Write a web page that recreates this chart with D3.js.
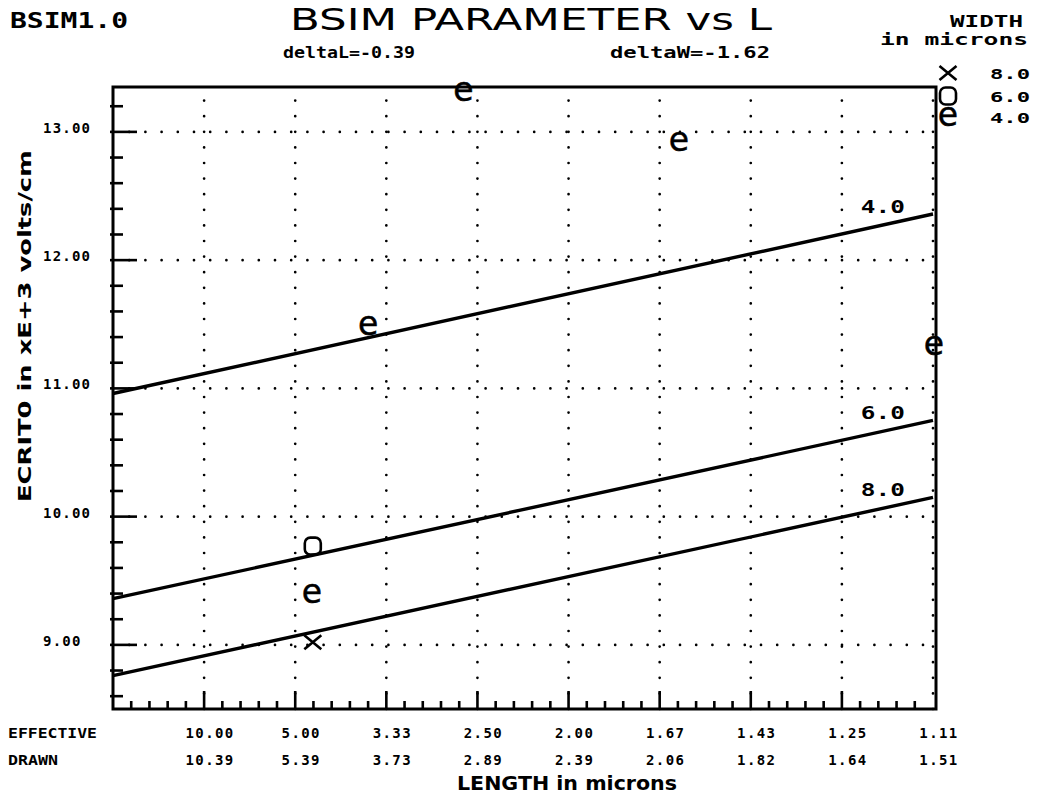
<!DOCTYPE html>
<html>
<head>
<meta charset="utf-8">
<script src="https://cdn.jsdelivr.net/npm/d3@7"></script>
<style>
  body { margin: 0; background: #fff; }
  text { fill: #000; }
</style>
</head>
<body>
<svg id="chart" width="1039" height="798"></svg>
<script>
// Device widths (microns) and the marker used for each
const widths = ["8.0", "6.0", "4.0"];
const markerShapes = ["x", "box", "e"];

// Fitted ECRIT0 (xE+3 V/cm) at 1/L = 0 and at 1/L = 0.9 (L = 1.11 um)
const fitInvL = [0, 0.9];
const fitAtZero = [8.76, 9.36, 10.96];
const fitAtEnd = [10.15, 10.75, 12.36];

// Measured points: effective length (um) and ECRIT0
const measuredW8 = [{ L: 4.56, v: 9.02 }];
const measuredW6 = [{ L: 4.56, v: 9.77 }];
const measuredW4 = [
  { L: 2.60, v: 13.31 },
  { L: 1.61, v: 12.92 },
  { L: 3.57, v: 11.49 },
  { L: 1.11, v: 11.33 },
  { L: 4.58, v: 9.40 }
];
const measured = [measuredW8, measuredW6, measuredW4];

// Axis ticks
const invLTicks = [0.1, 0.2, 0.3, 0.4, 0.5, 0.6, 0.7, 0.8, 0.9];
const effectiveLabels = ["10.00", "5.00", "3.33", "2.50", "2.00", "1.67", "1.43", "1.25", "1.11"];
const drawnLabels = ["10.39", "5.39", "3.73", "2.89", "2.39", "2.06", "1.82", "1.64", "1.51"];
const yTicks = [9, 10, 11, 12, 13];
const yTickLabels = ["9.00", "10.00", "11.00", "12.00", "13.00"];

const svg = d3.select("#chart");
const plotLeft = 113, plotRight = 936, plotTop = 87, plotBottom = 709;

const x = d3.scaleLinear().domain([0, 0.9]).range([plotLeft, 933]);
const y = d3.scaleLinear().domain([8.5, 13.35]).range([plotBottom, plotTop]);

const mono = "'DejaVu Sans Mono', monospace";
const sans = "'DejaVu Sans', sans-serif";

// dotted grid
const grid = svg.append("g")
  .attr("stroke", "#000").attr("stroke-width", 2.7)
  .attr("stroke-linecap", "round");
grid.selectAll("line.h").data(yTicks).join("line")
  .attr("class", "h")
  .attr("x1", plotLeft).attr("x2", plotRight)
  .attr("y1", d => y(d)).attr("y2", d => y(d))
  .attr("stroke-dasharray", "0,16.2");
grid.selectAll("line.v").data(invLTicks).join("line")
  .attr("class", "v")
  .attr("x1", d => x(d)).attr("x2", d => x(d))
  .attr("y1", plotBottom).attr("y2", plotTop)
  .attr("stroke-dasharray", "0,15.6");

// frame
svg.append("rect")
  .attr("x", plotLeft).attr("y", plotTop)
  .attr("width", plotRight - plotLeft).attr("height", plotBottom - plotTop)
  .attr("fill", "none").attr("stroke", "#000").attr("stroke-width", 3);

// y ticks: minor every 0.2, major at integers
const yMinor = d3.range(8.6, 13.3, 0.2).map(d => Math.round(d * 10) / 10);
svg.append("g").attr("stroke", "#000").attr("stroke-width", 2.6)
  .selectAll("line").data(yMinor).join("line")
  .attr("x1", plotLeft - 3)
  .attr("x2", d => plotLeft + (Math.abs(d - Math.round(d)) < 1e-6 ? 24 : 10))
  .attr("y1", d => y(d)).attr("y2", d => y(d));

// x ticks: minor every 0.02, major every 0.1
const xMinor = d3.range(1, 45).map(i => i * 0.02);
svg.append("g").attr("stroke", "#000").attr("stroke-width", 2.6)
  .selectAll("line").data(xMinor).join("line")
  .attr("x1", d => x(d)).attr("x2", d => x(d))
  .attr("y1", plotBottom)
  .attr("y2", d => plotBottom - (Math.abs(d * 10 - Math.round(d * 10)) < 1e-6 ? 18 : 8));

// y tick labels
svg.append("g").selectAll("text").data(yTicks).join("text")
  .attr("x", 43).attr("y", d => y(d) + 1)
  .attr("font-family", mono).attr("font-weight", "bold").attr("font-size", 14)
  .attr("letter-spacing", 1.2)
  .text((d, i) => yTickLabels[i]);

// x tick labels: effective and drawn lengths
const xl = svg.append("g").attr("font-family", mono).attr("font-weight", "bold")
  .attr("font-size", 14).attr("letter-spacing", 1.4).attr("text-anchor", "middle");
xl.selectAll("text.e").data(invLTicks).join("text")
  .attr("class", "e")
  .attr("x", d => x(d) + 6).attr("y", 738)
  .text((d, i) => effectiveLabels[i]);
xl.selectAll("text.d").data(invLTicks).join("text")
  .attr("class", "d")
  .attr("x", d => x(d) + 6).attr("y", 765)
  .text((d, i) => drawnLabels[i]);
svg.append("text").attr("x", 8).attr("y", 738)
  .attr("font-family", mono).attr("font-weight", "bold").attr("font-size", 14)
  .attr("textLength", 89).attr("lengthAdjust", "spacingAndGlyphs").text("EFFECTIVE");
svg.append("text").attr("x", 8).attr("y", 765)
  .attr("font-family", mono).attr("font-weight", "bold").attr("font-size", 14)
  .attr("textLength", 50).attr("lengthAdjust", "spacingAndGlyphs").text("DRAWN");

// fitted lines
const line = d3.line().x(d => x(d[0])).y(d => y(d[1]));
widths.forEach((w, i) => {
  const pts = [[fitInvL[0], fitAtZero[i]], [fitInvL[1], fitAtEnd[i]]];
  svg.append("path").attr("d", line(pts))
    .attr("fill", "none").attr("stroke", "#000").attr("stroke-width", 3.4);
  // width label just above the line near its right end
  const lx = 0.845;
  const lv = fitAtZero[i] + (fitAtEnd[i] - fitAtZero[i]) * (lx - fitInvL[0]) / (fitInvL[1] - fitInvL[0]);
  svg.append("text").attr("x", x(lx)).attr("y", y(lv) - 12)
    .attr("text-anchor", "middle")
    .attr("font-family", mono).attr("font-weight", "bold").attr("font-size", 17)
    .attr("textLength", 44).attr("lengthAdjust", "spacingAndGlyphs")
    .text(w);
});

// marker drawing
function drawMarker(g, shape, cx, cy) {
  if (shape === "x") {
    g.append("path")
      .attr("d", `M${cx - 8.5},${cy - 7}L${cx + 8.5},${cy + 7}M${cx - 8.5},${cy + 7}L${cx + 8.5},${cy - 7}`)
      .attr("stroke", "#000").attr("stroke-width", 2.6).attr("fill", "none");
  } else if (shape === "box") {
    g.append("rect").attr("x", cx - 8).attr("y", cy - 8.5).attr("width", 16).attr("height", 17)
      .attr("rx", 5.5).attr("fill", "none").attr("stroke", "#000").attr("stroke-width", 2.6);
  } else {
    g.append("text").attr("x", cx).attr("y", cy + 9).attr("text-anchor", "middle")
      .attr("font-family", sans).attr("font-size", 33)
      .attr("stroke", "#000").attr("stroke-width", 0.5).text("e");
  }
}

const markerLayer = svg.append("g");
measured.forEach((pts, i) => {
  pts.forEach(p => drawMarker(markerLayer, markerShapes[i], x(1 / p.L), y(p.v)));
});

// legend
const legendY = [73, 96, 117];
widths.forEach((w, i) => {
  drawMarker(svg, markerShapes[i], 948, legendY[i]);
  svg.append("text").attr("x", 990).attr("y", legendY[i] + 6)
    .attr("font-family", mono).attr("font-weight", "bold").attr("font-size", 14)
    .attr("textLength", 40).attr("lengthAdjust", "spacingAndGlyphs").text(w);
});

// titles
svg.append("text").attr("x", 10).attr("y", 28)
  .attr("font-family", mono).attr("font-weight", "bold").attr("font-size", 21)
  .attr("textLength", 118).attr("lengthAdjust", "spacingAndGlyphs").text("BSIM1.0");
svg.append("text").attr("x", 290).attr("y", 30)
  .attr("font-family", sans).attr("font-size", 31)
  .attr("textLength", 482).attr("lengthAdjust", "spacingAndGlyphs").text("BSIM PARAMETER vs L");
svg.append("text").attr("x", 283).attr("y", 58)
  .attr("font-family", mono).attr("font-weight", "bold").attr("font-size", 15)
  .attr("textLength", 132).attr("lengthAdjust", "spacingAndGlyphs").text("deltaL=-0.39");
svg.append("text").attr("x", 610).attr("y", 58)
  .attr("font-family", mono).attr("font-weight", "bold").attr("font-size", 15)
  .attr("textLength", 160).attr("lengthAdjust", "spacingAndGlyphs").text("deltaW=-1.62");
svg.append("text").attr("x", 950).attr("y", 27)
  .attr("font-family", mono).attr("font-weight", "bold").attr("font-size", 16)
  .attr("textLength", 73).attr("lengthAdjust", "spacingAndGlyphs").text("WIDTH");
svg.append("text").attr("x", 880).attr("y", 45)
  .attr("font-family", mono).attr("font-weight", "bold").attr("font-size", 16)
  .attr("textLength", 148).attr("lengthAdjust", "spacingAndGlyphs").text("in microns");

// axis titles
svg.append("text").attr("transform", "translate(31,326) rotate(-90)")
  .attr("text-anchor", "middle")
  .attr("font-family", sans).attr("font-weight", "bold").attr("font-size", 18)
  .attr("textLength", 352).attr("lengthAdjust", "spacingAndGlyphs")
  .text("ECRIT0 in xE+3 volts/cm");
svg.append("text").attr("x", 457).attr("y", 790)
  .attr("font-family", sans).attr("font-weight", "bold").attr("font-size", 19)
  .attr("textLength", 220).attr("lengthAdjust", "spacingAndGlyphs")
  .text("LENGTH in microns");
</script>
</body>
</html>
